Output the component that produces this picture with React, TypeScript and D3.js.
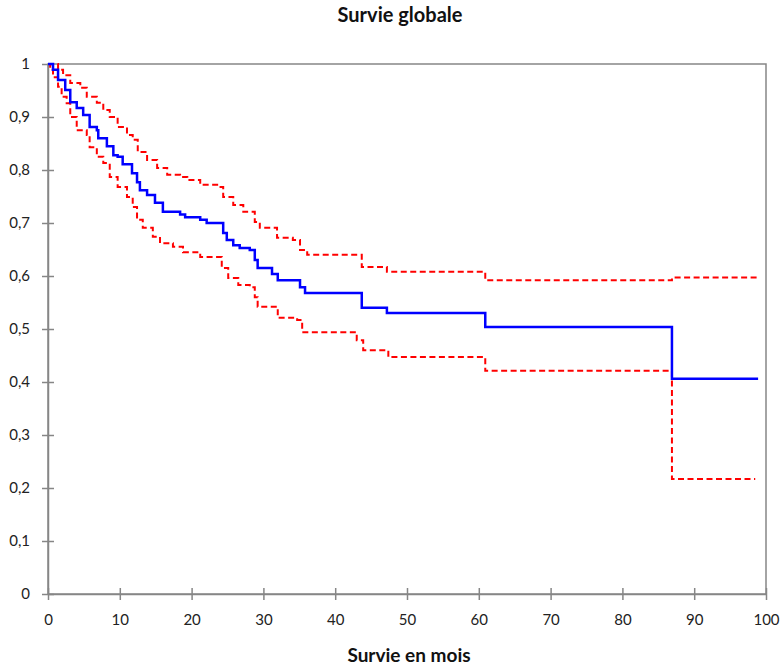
import React, { useRef, useEffect } from 'react';
import * as d3 from 'd3';

// Kaplan-Meier estimate (months, survival)
const kmTimes = [0, 0.7, 1.4, 2.4, 3.1, 4, 4.9, 5.8, 6.8, 7, 8.2, 9.1, 9.7, 10.4, 11.7, 12.4, 12.8, 13.8, 14.9, 16, 18.4, 19.1, 21.2, 22.1, 24.4, 24.9, 25.8, 26.7, 28.1, 28.8, 29.2, 31.2, 32, 35.1, 35.8, 43.7, 47.2, 60.9, 86.9, 98.9];
const kmSurv = [1, 0.989, 0.97, 0.951, 0.928, 0.917, 0.904, 0.881, 0.875, 0.86, 0.845, 0.828, 0.825, 0.811, 0.794, 0.777, 0.762, 0.753, 0.738, 0.721, 0.716, 0.711, 0.706, 0.7, 0.681, 0.668, 0.658, 0.653, 0.649, 0.63, 0.615, 0.604, 0.592, 0.579, 0.568, 0.54, 0.53, 0.504, 0.406, 0.406];

// upper confidence bound
const upTimes = [0, 1.4, 2.1, 3.1, 4.5, 5.4, 6.8, 7.7, 8.6, 9.7, 11, 11.8, 12.5, 13.8, 15.2, 16.6, 18.4, 19.4, 21.2, 23.7, 24.4, 25.8, 27.2, 28.8, 29.5, 31.9, 34.1, 35.1, 36.1, 43.7, 47.2, 60.9, 86.9, 98.8];
const upSurv = [1, 0.989, 0.979, 0.964, 0.955, 0.938, 0.927, 0.913, 0.9, 0.881, 0.866, 0.857, 0.834, 0.819, 0.804, 0.791, 0.787, 0.781, 0.772, 0.768, 0.749, 0.734, 0.721, 0.702, 0.691, 0.672, 0.668, 0.649, 0.64, 0.617, 0.608, 0.592, 0.597, 0.597];

// lower confidence bound
const loTimes = [0, 0.3, 0.7, 1.4, 1.9, 2.6, 3.1, 4, 5.4, 5.8, 6.8, 7.7, 8.6, 9.7, 11, 11.8, 12.4, 13.2, 14.6, 15.6, 17.4, 18.8, 21.2, 24.2, 25.1, 26.5, 28.1, 28.8, 29.2, 32, 34.7, 35.4, 43, 43.9, 47.4, 60.9, 86.9, 98.5];
const loSurv = [1, 0.989, 0.975, 0.957, 0.938, 0.926, 0.9, 0.875, 0.866, 0.843, 0.825, 0.813, 0.787, 0.768, 0.749, 0.73, 0.706, 0.691, 0.674, 0.662, 0.655, 0.645, 0.636, 0.615, 0.596, 0.583, 0.579, 0.56, 0.542, 0.521, 0.517, 0.494, 0.479, 0.46, 0.447, 0.421, 0.217, 0.217];

const xTicks = [0, 10, 20, 30, 40, 50, 60, 70, 80, 90, 100];
const yTicks = [0, 0.1, 0.2, 0.3, 0.4, 0.5, 0.6, 0.7, 0.8, 0.9, 1];

const App: React.FC = () => {
  const svgRef = useRef<SVGSVGElement | null>(null);

  useEffect(() => {
    const svg = d3.select(svgRef.current);
    const width = 784;
    const height = 667;
    const margin = { top: 64, right: 18, bottom: 73, left: 48 };
    const font = 'Lato, "Open Sans", sans-serif';
    const grey = '#868686';

    svg.selectAll('*').remove();

    const x = d3.scaleLinear().domain([0, 100]).range([margin.left, width - margin.right]);
    const y = d3.scaleLinear().domain([0, 1]).range([height - margin.bottom, margin.top]);

    // plot area border
    svg.append('rect')
      .attr('x', x(0))
      .attr('y', y(1))
      .attr('width', x(100) - x(0))
      .attr('height', y(0) - y(1))
      .attr('fill', 'none')
      .attr('stroke', grey)
      .attr('stroke-width', 1.5);

    // y axis
    const yAxis = svg.append('g')
      .attr('transform', `translate(${x(0)},0)`)
      .call(d3.axisLeft(y).tickValues(yTicks).tickSize(0).tickPadding(18)
        .tickFormat(d => (d === 0 || d === 1) ? String(d) : d3.format('.1f')(d as number).replace('.', ',')));
    yAxis.select('.domain').attr('stroke', grey).attr('stroke-width', 1.5);
    yAxis.selectAll('.tick').append('line')
      .attr('x1', -6).attr('x2', 6).attr('stroke', grey).attr('stroke-width', 1.5);
    yAxis.selectAll('text').attr('font-family', font).attr('font-size', 15).attr('fill', '#222');

    // x axis
    const xAxis = svg.append('g')
      .attr('transform', `translate(0,${y(0)})`)
      .call(d3.axisBottom(x).tickValues(xTicks).tickSize(0).tickPadding(20));
    xAxis.select('.domain').attr('stroke', grey).attr('stroke-width', 1.5);
    xAxis.selectAll('.tick').append('line')
      .attr('y1', -6).attr('y2', 6).attr('stroke', grey).attr('stroke-width', 1.5);
    xAxis.selectAll('text').attr('font-family', font).attr('font-size', 15).attr('fill', '#222');

    const line = d3.line<[number, number]>()
      .x(d => x(d[0]))
      .y(d => y(d[1]))
      .curve(d3.curveStepAfter);

    const series = [
      { t: upTimes, s: upSurv, color: '#ff0000', width: 2, dash: '6,3.5' },
      { t: loTimes, s: loSurv, color: '#ff0000', width: 2, dash: '6,3.5' },
      { t: kmTimes, s: kmSurv, color: '#0000ff', width: 2.5, dash: null },
    ];

    series.forEach(se => {
      svg.append('path')
        .datum(se.t.map((t, i) => [t, se.s[i]] as [number, number]))
        .attr('d', line)
        .attr('fill', 'none')
        .attr('stroke', se.color)
        .attr('stroke-width', se.width)
        .attr('stroke-dasharray', se.dash);
    });

    // titles
    svg.append('text')
      .attr('x', 400).attr('y', 22)
      .attr('text-anchor', 'middle')
      .attr('font-family', font).attr('font-weight', 'bold').attr('font-size', 20)
      .attr('fill', '#111')
      .text('Survie globale');

    svg.append('text')
      .attr('x', 409).attr('y', 662)
      .attr('text-anchor', 'middle')
      .attr('font-family', font).attr('font-weight', 'bold').attr('font-size', 19)
      .attr('fill', '#111')
      .text('Survie en mois');
  }, []);

  return (
    <svg ref={svgRef} width={784} height={667}
      style={{ position: 'absolute', left: 0, top: 0, background: '#fff' }} />
  );
};

export default App;
